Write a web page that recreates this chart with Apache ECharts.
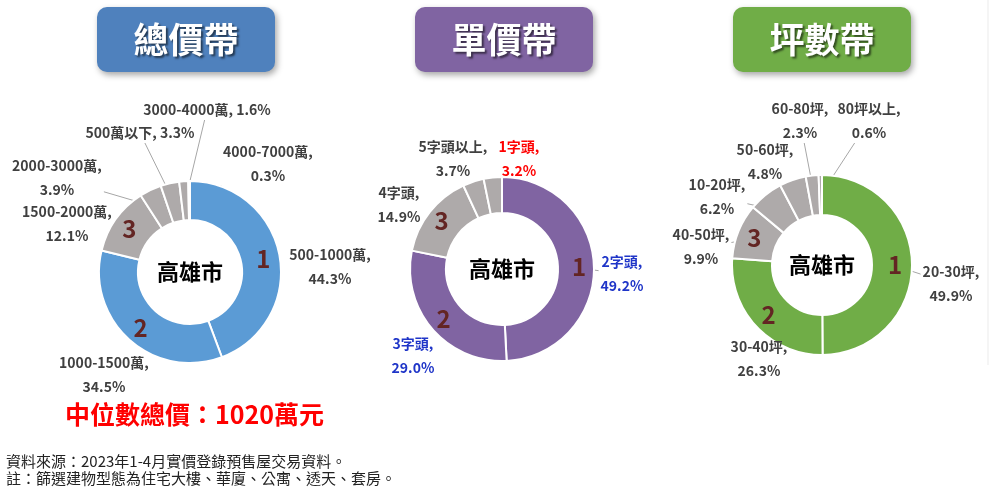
<!DOCTYPE html>
<html><head><meta charset="utf-8">
<script src="https://cdn.jsdelivr.net/npm/echarts@6/dist/echarts.min.js"></script>
<style>html,body{margin:0;padding:0;background:#fff}#c{width:989px;height:491px}</style>
</head><body><div id="c"></div>
<script>
// ---- data ----
const titles = ['總價帶', '單價帶', '坪數帶'];
const cityName = '高雄市';

const totalNames = ['500-1000萬', '1000-1500萬', '1500-2000萬', '2000-3000萬', '500萬以下', '3000-4000萬', '4000-7000萬'];
const totalValues = [44.3, 34.5, 12.1, 3.9, 3.3, 1.6, 0.3];

const unitNames = ['2字頭', '3字頭', '4字頭', '5字頭以上', '1字頭'];
const unitValues = [49.2, 29.0, 14.9, 3.7, 3.2];

const areaNames = ['20-30坪', '30-40坪', '40-50坪', '10-20坪', '50-60坪', '60-80坪', '80坪以上'];
const areaValues = [49.9, 26.3, 9.9, 6.2, 4.8, 2.3, 0.6];

const ranks = ['1', '2', '3'];
const oneLineLabels = ['500萬以下', '3000-4000萬'];
const medianText = '中位數總價：1020萬元';
const notes = ['資料來源：2023年1-4月實價登錄預售屋交易資料。', '註：篩選建物型態為住宅大樓、華廈、公寓、透天、套房。'];

// ---- layout / styles ----
const FONT = '"Noto Sans CJK TC","Noto Sans CJK SC",sans-serif';
const GRAY = '#AEAAAA';
const charts = [
  {names: totalNames, values: totalValues, color: '#5B9BD5', head: '#4F81BD', center: [190, 272], radius: [52, 91], hx: 97,
   labelColors: {},
   labelAt: [[330, 267], [104, 375], [67, 224], [57, 178], [140, 133], [207, 110], [268, 164]],
   lines: ['2000-3000萬', '500萬以下', '3000-4000萬', '4000-7000萬']},
  {names: unitNames, values: unitValues, color: '#8064A2', head: '#8064A2', center: [502, 269], radius: [56, 92], hx: 415,
   labelColors: {'2字頭': '#1F35C8', '3字頭': '#1F35C8', '1字頭': '#FF0000'},
   labelAt: [[622, 274], [413, 356], [399, 205], [453, 159], [519, 159]],
   lines: ['2字頭']},
  {names: areaNames, values: areaValues, color: '#70AD47', head: '#70AD47', center: [822, 265], radius: [50, 90], hx: 733,
   labelColors: {},
   labelAt: [[951, 284], [759, 359], [701, 247], [717, 197], [765, 162], [800, 121], [869, 121]],
   lines: ['20-30坪', '40-50坪', '10-20坪', '50-60坪', '60-80坪', '80坪以上']}
];

function makeLayout(c) {
  return function (params) {
    const i = params.dataIndex;
    const pos = c.labelAt[i];
    const w = params.labelRect.width, h = params.labelRect.height;
    const out = {x: pos[0], y: pos[1], align: 'center', verticalAlign: 'middle'};
    const name = c.names[i];
    if (c.lines.includes(name) && params.labelLinePoints) {
      const p0 = params.labelLinePoints[0];
      const dx = p0[0] - c.center[0], dy = p0[1] - c.center[1];
      const len = Math.sqrt(dx * dx + dy * dy);
      const inner = [p0[0] - dx / len * 20, p0[1] - dy / len * 20];
      const ex = inner[0] - pos[0], ey = inner[1] - pos[1];
      const t = Math.min(ex !== 0 ? (w / 2 + 2) / Math.abs(ex) : Infinity, ey !== 0 ? (h / 2 - 2) / Math.abs(ey) : Infinity);
      const s = [pos[0] + ex * t, pos[1] + ey * t];
      out.labelLinePoints = [s, s, inner];
    } else {
      out.labelLinePoints = [[pos[0], pos[1]], [pos[0], pos[1]], [pos[0], pos[1]]];
    }
    return out;
  };
}

const series = [];
const graphic = [];
charts.forEach((c, ci) => {
  const data = c.names.map((n, i) => ({
    name: n, value: c.values[i],
    itemStyle: {color: i < 2 ? c.color : GRAY},
    label: {color: c.labelColors[n] || '#404040'},
    labelLine: {show: c.lines.includes(n)}
  }));
  series.push({
    type: 'pie', center: c.center, radius: c.radius, startAngle: 90, clockwise: true,
    avoidLabelOverlap: false, silent: true,
    itemStyle: {borderColor: '#fff', borderWidth: 2},
    label: {
      show: true, position: 'outside', fontFamily: FONT, fontSize: 14, fontWeight: 'bold',
      lineHeight: 24, align: 'center',
      formatter: p => p.name + (oneLineLabels.includes(p.name) ? ', ' : ',\n') + p.value.toFixed(1) + '%'
    },
    labelLine: {show: true, length: 10, length2: 12, lineStyle: {color: '#A6A6A6', width: 1}},
    labelLayout: makeLayout(c),
    data: data
  });
  series.push({
    type: 'pie', center: c.center, radius: c.radius, startAngle: 90, clockwise: true, silent: true,
    itemStyle: {color: 'transparent'},
    label: {show: true, position: 'inside', fontFamily: FONT, fontSize: 24, fontWeight: 'bold', color: '#632523',
      formatter: p => ranks[p.dataIndex] || ''},
    labelLine: {show: false},
    data: c.names.map((n, i) => ({name: n, value: c.values[i]}))
  });
  // header box
  graphic.push({
    type: 'group', left: c.hx, top: 7,
    children: [
      {type: 'rect', shape: {x: 0, y: 0, width: 178, height: 65, r: 10},
       style: {fill: c.head, shadowBlur: 6, shadowOffsetX: 2, shadowOffsetY: 3, shadowColor: 'rgba(0,0,0,0.35)'}},
      {type: 'text', x: 89, y: 33, style: {text: titles[ci], fill: '#fff', font: 'bold 35px ' + FONT,
        align: 'center', verticalAlign: 'middle', textShadowColor: 'rgba(0,0,0,0.55)', textShadowOffsetX: 2, textShadowOffsetY: 2, textShadowBlur: 2}}
    ]
  });
  graphic.push({type: 'text', x: c.center[0], y: c.center[1], style: {text: cityName, fill: '#000', font: 'bold 22px ' + FONT,
    align: 'center', verticalAlign: 'middle'}});
});
graphic.push({type: 'text', x: 65, y: 414, style: {text: medianText, fill: '#FF0000', font: 'bold 25px ' + FONT, verticalAlign: 'middle'}});
graphic.push({type: 'text', x: 6, y: 461, style: {text: notes[0], fill: '#222', font: '15px ' + FONT, verticalAlign: 'middle'}});
graphic.push({type: 'text', x: 6, y: 478, style: {text: notes[1], fill: '#222', font: '15px ' + FONT, verticalAlign: 'middle'}});
graphic.push({type: 'line', shape: {x1: 988, y1: 0, x2: 988, y2: 365}, style: {stroke: '#EBEBEB', lineWidth: 1}});

const chart = echarts.init(document.getElementById('c'));
chart.setOption({animation: false, series: series, graphic: graphic});
</script></body></html>
